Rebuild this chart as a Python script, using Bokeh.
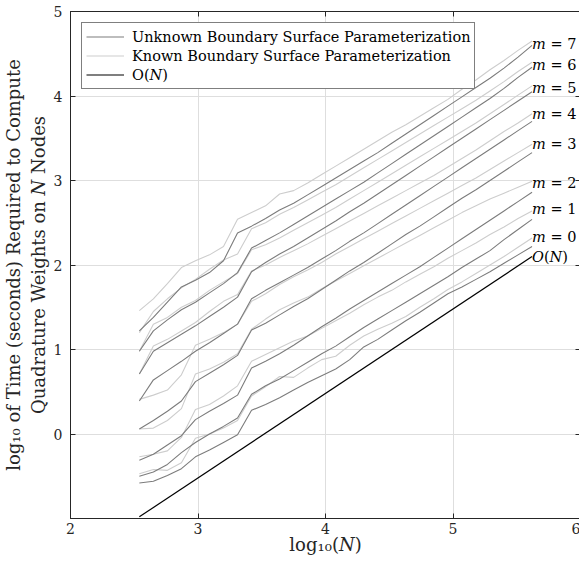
from bokeh.plotting import figure
from bokeh.models import (ColumnDataSource, Legend, LegendItem, FixedTicker, Title,
                          LinearAxis, CustomJSTickFormatter)
from bokeh.embed import file_html
from bokeh.resources import INLINE
from bokeh.core.properties import value

# log10(N) sample positions
log_n = [2.54, 2.65, 2.76, 2.87, 2.98, 3.09, 3.20, 3.31, 3.42, 3.53,
         3.64, 3.75, 3.86, 3.97, 4.08, 4.19, 4.30, 4.41, 4.52, 4.63,
         4.74, 4.85, 4.96, 5.07, 5.18, 5.29, 5.40, 5.51, 5.62]

# Unknown boundary surface parameterization (dark), m = 0..7
unknown = [
    [-0.58, -0.56, -0.49, -0.41, -0.27, -0.19, -0.10, -0.01, 0.28, 0.35,
     0.43, 0.52, 0.61, 0.69, 0.77, 0.88, 1.03, 1.12, 1.23, 1.34,
     1.44, 1.55, 1.66, 1.74, 1.83, 1.92, 2.02, 2.12, 2.22],
    [-0.50, -0.45, -0.36, -0.22, -0.10, 0.00, 0.09, 0.19, 0.47, 0.57,
     0.65, 0.75, 0.85, 0.95, 1.04, 1.15, 1.26, 1.36, 1.46, 1.56,
     1.66, 1.76, 1.86, 1.97, 2.07, 2.17, 2.30, 2.42, 2.54],
    [-0.31, -0.24, -0.13, -0.02, 0.17, 0.27, 0.36, 0.46, 0.78, 0.86,
     0.95, 1.05, 1.16, 1.27, 1.37, 1.48, 1.58, 1.68, 1.78, 1.88,
     1.98, 2.09, 2.20, 2.31, 2.42, 2.53, 2.64, 2.75, 2.86],
    [0.06, 0.16, 0.27, 0.39, 0.62, 0.72, 0.82, 0.93, 1.23, 1.31,
     1.41, 1.51, 1.60, 1.71, 1.82, 1.93, 2.03, 2.14, 2.25, 2.36,
     2.46, 2.57, 2.68, 2.79, 2.89, 3.00, 3.11, 3.22, 3.33],
    [0.39, 0.64, 0.75, 0.86, 0.98, 1.08, 1.19, 1.30, 1.60, 1.70,
     1.79, 1.88, 1.97, 2.07, 2.17, 2.28, 2.38, 2.49, 2.60, 2.71,
     2.82, 2.93, 3.04, 3.15, 3.26, 3.37, 3.48, 3.59, 3.70],
    [0.71, 0.98, 1.08, 1.18, 1.28, 1.39, 1.50, 1.62, 1.92, 2.03,
     2.13, 2.22, 2.32, 2.42, 2.52, 2.63, 2.73, 2.84, 2.95, 3.06,
     3.17, 3.28, 3.39, 3.50, 3.61, 3.72, 3.83, 3.94, 4.05],
    [0.98, 1.22, 1.35, 1.47, 1.56, 1.67, 1.78, 1.91, 2.20, 2.29,
     2.38, 2.48, 2.58, 2.68, 2.78, 2.88, 2.98, 3.09, 3.20, 3.31,
     3.42, 3.53, 3.64, 3.75, 3.86, 3.97, 4.09, 4.22, 4.34],
    [1.22, 1.38, 1.56, 1.74, 1.82, 1.91, 2.05, 2.38, 2.46, 2.55,
     2.65, 2.73, 2.83, 2.93, 3.03, 3.13, 3.23, 3.33, 3.44, 3.55,
     3.66, 3.77, 3.88, 3.99, 4.10, 4.21, 4.33, 4.46, 4.60],
]

# Known boundary surface parameterization (light), m = 0..7
known = [
    [-0.47, -0.42, -0.43, -0.34, -0.05, 0.00, 0.07, 0.16, 0.45, 0.56,
     0.68, 0.67, 0.78, 0.88, 0.92, 1.05, 1.16, 1.24, 1.31, 1.39,
     1.50, 1.60, 1.71, 1.80, 1.90, 2.00, 2.10, 2.21, 2.32],
    [-0.27, -0.24, -0.20, -0.04, 0.29, 0.35, 0.45, 0.57, 0.86, 0.94,
     1.02, 1.10, 1.16, 1.25, 1.34, 1.43, 1.53, 1.62, 1.70, 1.80,
     1.89, 1.98, 2.08, 2.17, 2.26, 2.36, 2.45, 2.55, 2.64],
    [0.06, 0.07, 0.16, 0.30, 0.71, 0.77, 0.85, 0.95, 1.24, 1.36,
     1.47, 1.55, 1.62, 1.72, 1.81, 1.90, 1.99, 2.08, 2.17, 2.26,
     2.35, 2.44, 2.53, 2.62, 2.70, 2.78, 2.85, 2.92, 2.99],
    [0.41, 0.46, 0.52, 0.70, 1.05, 1.12, 1.20, 1.30, 1.57, 1.66,
     1.77, 1.86, 1.94, 2.03, 2.13, 2.22, 2.31, 2.40, 2.49, 2.58,
     2.67, 2.76, 2.85, 2.94, 3.03, 3.13, 3.23, 3.33, 3.43],
    [0.71, 1.04, 1.12, 1.22, 1.32, 1.45, 1.57, 1.65, 1.93, 2.00,
     2.09, 2.17, 2.25, 2.34, 2.43, 2.52, 2.61, 2.70, 2.79, 2.88,
     2.97, 3.06, 3.16, 3.26, 3.36, 3.47, 3.58, 3.68, 3.79],
    [0.98, 1.30, 1.38, 1.50, 1.58, 1.70, 1.80, 1.90, 2.18, 2.24,
     2.32, 2.41, 2.50, 2.59, 2.68, 2.78, 2.88, 2.98, 3.08, 3.18,
     3.28, 3.38, 3.48, 3.58, 3.68, 3.79, 3.90, 4.01, 4.12],
    [1.20, 1.45, 1.60, 1.73, 1.83, 1.95, 2.06, 2.13, 2.43, 2.50,
     2.60, 2.68, 2.77, 2.86, 2.95, 3.05, 3.15, 3.25, 3.35, 3.45,
     3.55, 3.65, 3.75, 3.85, 3.95, 4.06, 4.17, 4.29, 4.40],
    [1.46, 1.60, 1.78, 1.97, 2.05, 2.12, 2.22, 2.54, 2.62, 2.70,
     2.84, 2.88, 2.97, 3.07, 3.17, 3.27, 3.37, 3.47, 3.57, 3.66,
     3.76, 3.86, 3.96, 4.08, 4.19, 4.31, 4.42, 4.54, 4.65],
]

# O(N) reference line
on_x = [2.54, 5.62]
on_y = [-0.98, 2.10]

# right-hand labels
label_text = ["\U0001D45A = 7", "\U0001D45A = 6", "\U0001D45A = 5", "\U0001D45A = 4",
              "\U0001D45A = 3", "\U0001D45A = 2", "\U0001D45A = 1", "\U0001D45A = 0",
              "\U0001D442(\U0001D441)"]
label_y = [4.62, 4.37, 4.09, 3.79, 3.43, 2.97, 2.66, 2.33, 2.10]
label_x = [5.62] * len(label_y)

x_ticks = [2, 3, 4, 5, 6]
y_ticks = [0, 1, 2, 3, 4, 5]

y_title_lines = ["log\u2081\u2080 of Time (seconds) Required to Compute",
                 "Quadrature Weights on \U0001D441 Nodes"]

FONT = "DejaVu Serif"
DARK = "#7c7c7c"
LIGHT = "#cdcdcd"
AXC = "#262626"

p = figure(width=580, height=562, x_range=(2, 6), y_range=(-1, 5),
           output_backend="svg", toolbar_location=None,
           min_border_left=62, min_border_right=0, min_border_top=11,
           min_border_bottom=44)

light_r = []
for ys in known:
    light_r.append(p.line(log_n, ys, line_color=LIGHT, line_width=1.1))
dark_r = []
for ys in unknown:
    dark_r.append(p.line(log_n, ys, line_color=DARK, line_width=1.1))
on_r = p.line(on_x, on_y, line_color="black", line_width=1.2)

src = ColumnDataSource(dict(x=label_x, y=label_y, t=label_text))
p.text(x="x", y="y", text="t", source=src, text_font=value(FONT),
       text_font_size="14.5px", text_align="left", text_baseline="middle",
       text_color="black")

legend = Legend(items=[
    LegendItem(label="Unknown Boundary Surface Parameterization", renderers=[dark_r[0]]),
    LegendItem(label="Known Boundary Surface Parameterization", renderers=[light_r[0]]),
    LegendItem(label="O(\U0001D441)", renderers=[on_r]),
], location="top_left")
legend.label_text_font = FONT
legend.label_text_font_size = "14.5px"
legend.label_text_color = "black"
legend.border_line_color = "black"
legend.border_line_width = 1
legend.background_fill_color = "white"
legend.background_fill_alpha = 1
legend.padding = 4
legend.spacing = 0
legend.margin = 11
legend.glyph_width = 38
legend.glyph_height = 19
legend.label_height = 19
legend.label_standoff = 8
p.add_layout(legend)

p.xaxis.ticker = FixedTicker(ticks=x_ticks)
p.yaxis.ticker = FixedTicker(ticks=y_ticks)
for ax in (p.xaxis[0], p.yaxis[0]):
    ax.major_tick_in = 5
    ax.major_tick_out = 0
    ax.minor_tick_line_color = None
    ax.axis_line_color = AXC
    ax.major_tick_line_color = AXC
    ax.major_label_text_font = FONT
    ax.major_label_text_font_size = "14px"
    ax.major_label_text_color = AXC
    ax.axis_label_text_font = FONT
    ax.axis_label_text_font_style = "normal"
    ax.axis_label_text_font_size = "18px"
    ax.axis_label_text_color = AXC

p.xaxis.axis_label = "log\u2081\u2080(\U0001D441)"
p.xaxis.major_label_standoff = 4
p.yaxis.major_label_standoff = 8
p.xaxis.axis_label_standoff = -3

# tick marks on the top and right edges of the box (no labels)
blank = CustomJSTickFormatter(code="return '';")
top_ax = LinearAxis(ticker=FixedTicker(ticks=x_ticks), formatter=blank,
                    major_tick_in=5, major_tick_out=0, minor_tick_line_color=None,
                    axis_line_color=AXC, major_tick_line_color=AXC,
                    major_label_standoff=0, major_label_text_font_size="1px")
right_ax = LinearAxis(ticker=FixedTicker(ticks=y_ticks), formatter=blank,
                      major_tick_in=5, major_tick_out=0, minor_tick_line_color=None,
                      axis_line_color=AXC, major_tick_line_color=AXC,
                      major_label_standoff=0, major_label_text_font_size="1px")
p.add_layout(top_ax, "above")
p.add_layout(right_ax, "right")

# two-line y label, placed as left-side titles (second line nearest the axis)
for txt, off, so in ((y_title_lines[1], 36, 4), (y_title_lines[0], 30, 0)):
    t = Title(text=txt, align="center", offset=off, standoff=so,
              text_font=FONT, text_font_size="18px", text_font_style="normal",
              text_color=AXC)
    p.add_layout(t, "left")

p.outline_line_color = AXC
p.outline_line_width = 1
p.xgrid.ticker = FixedTicker(ticks=x_ticks)
p.ygrid.ticker = FixedTicker(ticks=y_ticks)
p.grid.grid_line_color = "#dedede"
p.grid.grid_line_width = 1
p.background_fill_color = "white"
p.border_fill_color = "white"

open("out.html", "w").write(file_html(p, INLINE))
